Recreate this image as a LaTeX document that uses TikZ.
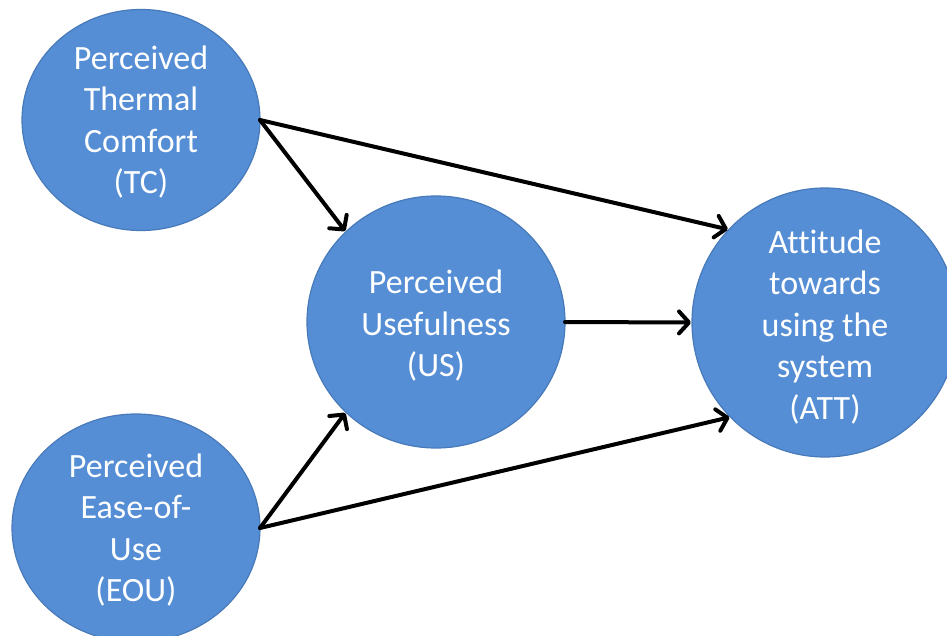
\documentclass[tikz,border=0pt]{standalone}
\usepackage{fontspec}
\setmainfont[Ligatures=NoCommon]{Carlito}
\usetikzlibrary{shapes.geometric,arrows.meta}
\definecolor{bubblefill}{RGB}{85,142,213}
\definecolor{bubbleedge}{RGB}{72,122,186}
\tikzset{
  bubble/.style={ellipse, fill=bubblefill, draw=bubbleedge, line width=1.2pt, inner sep=0pt, outer sep=0pt},
  caption/.style={text=white, align=center, font=\fontsize{34}{41.5}\selectfont, inner sep=0pt},
  link/.style={line width=4pt, line cap=round, line join=round,
    -{Straight Barb[length=10pt, width=22pt, line cap=round, line join=round]}, shorten >=1pt},
}
\begin{document}
\begin{tikzpicture}[x=1pt, y=-1pt]
\useasboundingbox (0,0) rectangle (947,636);

% constructs
\node[bubble, minimum width=238pt, minimum height=221pt] (TC)  at (141,120) {};
\node[bubble, minimum width=248pt, minimum height=228pt] (EOU) at (136,528) {};
\node[bubble, minimum width=258pt, minimum height=252pt] (US)  at (436,322) {};
\node[bubble, minimum width=266pt, minimum height=269pt] (ATT) at (825,322.5) {};

\node[caption] (TCt)  at (141,122) {Perceived\\Thermal\\Comfort\\(TC)};
\node[caption] (EOUt) at (136,530) {Perceived\\Ease-of-\\Use\\(EOU)};
\node[caption] (USt)  at (436,326) {Perceived\\Usefulness\\(US)};
\node[caption] (ATTt) at (825,327) {Attitude\\towards\\using the\\system\\(ATT)};

% hypothesised paths
\draw[link] (TC.east)  -- (US.135);
\draw[link] (TC.east)  -- (ATT.136);
\draw[link] (EOU.east) -- (US.225);
\draw[link] (EOU.east) -- (ATT.225);
\draw[link] (US.east)  -- (ATT.west);
\end{tikzpicture}
\end{document}
